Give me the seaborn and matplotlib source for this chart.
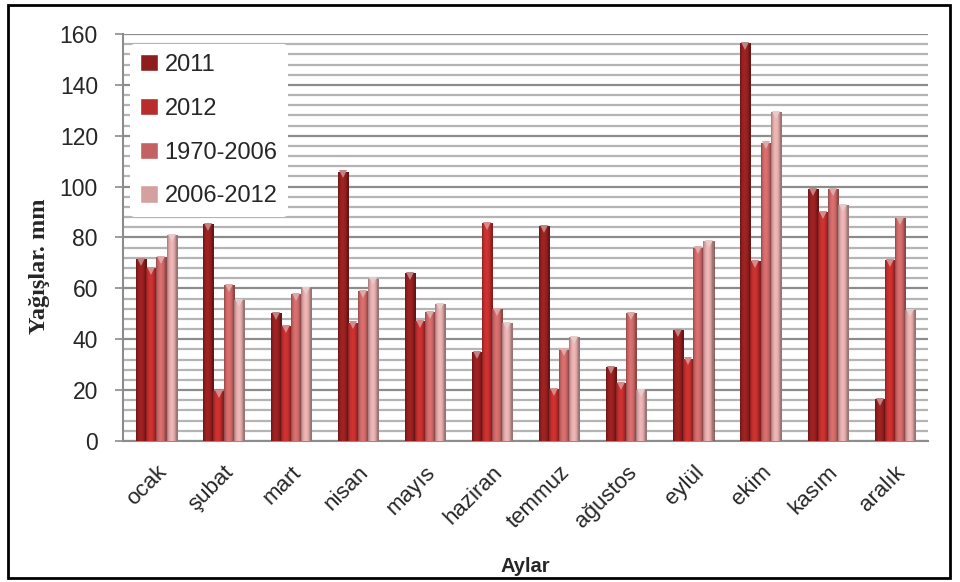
import matplotlib
matplotlib.use("Agg")
import matplotlib.pyplot as plt
import matplotlib.patches as mpatches
from matplotlib.colors import to_rgb
from matplotlib.ticker import MultipleLocator
import numpy as np
import pandas as pd
import seaborn as sns

months = ["ocak", "şubat", "mart", "nisan", "mayıs", "haziran",
          "temmuz", "ağustos", "eylül", "ekim", "kasım", "aralık"]
series_names = ["2011", "2012", "1970-2006", "2006-2012"]
rain_2011 = [71.4, 85.3, 50.2, 105.9, 65.9, 34.9, 84.4, 29.0, 43.5, 156.3, 98.9, 16.4]
rain_2012 = [67.9, 19.5, 45.2, 46.5, 47.0, 85.6, 20.3, 22.7, 32.4, 70.6, 90.0, 71.1]
rain_1970_2006 = [72.2, 61.2, 57.8, 58.8, 50.6, 51.8, 35.9, 50.2, 76.0, 117.3, 98.9, 87.5]
rain_2006_2012 = [80.9, 55.4, 60.0, 63.8, 53.7, 46.3, 40.8, 19.9, 78.6, 129.2, 92.6, 51.4]
y_ticks = [0, 20, 40, 60, 80, 100, 120, 140, 160]

colors = ["#8e1e1e", "#b82c2c", "#c26262", "#d4a0a0"]

df = pd.DataFrame({
    "Aylar": months * 4,
    "Seri": [s for s in series_names for _ in months],
    "Yağış": rain_2011 + rain_2012 + rain_1970_2006 + rain_2006_2012,
})

sns.set_theme(style="white")
plt.rcParams["font.family"] = ["Liberation Sans", "DejaVu Sans"]

fig = plt.figure(figsize=(9.6, 5.82), dpi=100)
ax = fig.add_axes([0.128, 0.2423, 0.839, 0.6993])

sns.barplot(data=df, x="Aylar", y="Yağış", hue="Seri", order=months,
            hue_order=series_names, palette=colors, width=0.6,
            saturation=1, ax=ax, legend=True, zorder=3)

# Cylindrical shading across each bar, clipped to the bar itself,
# plus a small bevel highlight at the top of each bar
t = np.linspace(0, 1, 40)
shade = 0.72 + 0.42 * np.sin(np.pi * np.clip(t * 1.15, 0, 1)) ** 0.7
for p in list(ax.patches):
    w, h = p.get_width(), p.get_height()
    if h <= 0:
        continue
    x0, y0 = p.get_x(), p.get_y()
    base = np.array(to_rgb(p.get_facecolor()))
    img = np.clip(base[None, None, :] * shade[None, :, None], 0, 1)
    im = ax.imshow(img, extent=[x0, x0 + w, y0, y0 + h], aspect="auto",
                   interpolation="bilinear", zorder=3.2)
    im.set_clip_path(p)
    p.set_edgecolor("#4a1010")
    p.set_linewidth(0.4)
    light = base + (1 - base) * 0.45
    ax.plot(x0 + w / 2, y0 + h - 1.1, marker="v", ms=5.5, mew=0,
            color=light, zorder=3.4)

ax.set_ylim(0, 160)
ax.set_xlim(-0.5, len(months) - 0.5)
ax.set_aspect("auto")
ax.set_yticks(y_ticks)
ax.yaxis.set_minor_locator(MultipleLocator(4))
ax.grid(axis="y", which="minor", color="#b4b4b4", linewidth=1.6, zorder=0)
ax.grid(axis="y", which="major", color="#8c8c8c", linewidth=1.6, zorder=0)
ax.set_axisbelow(True)

for side in ["top", "right"]:
    ax.spines[side].set_visible(False)
ax.spines["left"].set_color("#8c8c8c")
ax.spines["left"].set_linewidth(1.5)
ax.spines["bottom"].set_color("#8c8c8c")
ax.spines["bottom"].set_linewidth(1.5)

ax.tick_params(axis="y", which="major", left=True, length=6, width=1.2,
               color="#8c8c8c", labelsize=16.5, pad=12)
ax.tick_params(axis="x", bottom=False, labelsize=16, pad=9)
for lbl in ax.get_xticklabels():
    lbl.set_rotation(45)
    lbl.set_ha("right")
    lbl.set_rotation_mode("anchor")

ax.set_xlabel("Aylar", fontsize=14.5, fontweight="bold")
ax.xaxis.set_label_coords(0.5, -0.285)
ax.set_ylabel("Yağışlar. mm", fontsize=17.5, fontweight="bold",
              family="Liberation Serif")
ax.yaxis.set_label_coords(-0.091, 0.43)

leg = ax.legend(loc="upper left", bbox_to_anchor=(0.0087, 0.975), frameon=True,
                fontsize=17, handlelength=0.75, handleheight=0.75,
                handletextpad=0.3, labelspacing=0.92, borderpad=0.42,
                facecolor="white", edgecolor="white", framealpha=1,
                borderaxespad=0.0)
leg.set_title(None)
leg.get_frame().set_linewidth(0)

fig.patches.append(mpatches.Rectangle((8 / 960, 4 / 582), 942 / 960, 573 / 582,
                                      transform=fig.transFigure, fill=False,
                                      edgecolor="black", linewidth=2))

fig.savefig("out.png", dpi=100, facecolor="white")
